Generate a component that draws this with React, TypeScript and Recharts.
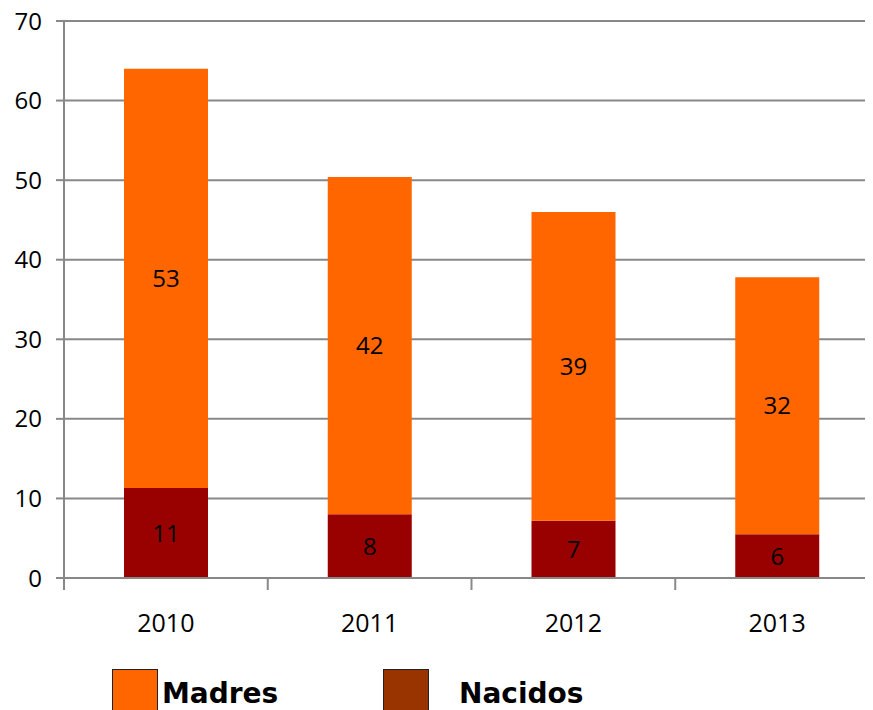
import { BarChart, Bar, XAxis, YAxis, CartesianGrid, LabelList } from 'recharts'

const years = ['2010', '2011', '2012', '2013']
const madres = [52.7, 42.4, 38.8, 32.3]
const nacidos = [11.3, 8.0, 7.2, 5.5]
const yTicks = [0, 10, 20, 30, 40, 50, 60, 70]

const seriesNames = ['Madres', 'Nacidos']
const legendColors = ['#ff6600', '#993300']
const legendLeft = [112, 383]
const legendTextLeft = [162, 459]

const data = years.map((year, i) => ({ year, madres: madres[i], nacidos: nacidos[i] }))

const font = '"Open Sans", sans-serif'
const legendFont = '"DejaVu Sans", Verdana, sans-serif'
const gridColor = '#888888'

const chartWidth = 879
const yAxisWidth = 64
const band = (chartWidth - yAxisWidth) / years.length

const roundLabel = (v: unknown) => Math.round(Number(v))

// year label plus a tick mark at the left edge of each category
function YearTick({ x, y, payload }: { x: number; y: number; payload: { value: string } }) {
  const edge = x - band / 2
  return (
    <g>
      <line x1={edge} x2={edge} y1={y} y2={y + 12} stroke={gridColor} strokeWidth={2} />
      <text x={x} y={y + 36} dy="0.71em" textAnchor="middle" fontSize={25} fill="#000" fontFamily={font}>
        {payload.value}
      </text>
    </g>
  )
}

export default function App() {
  return (
    <div style={{ position: 'relative', marginTop: -8, marginLeft: -8, width: 873, height: 710, overflow: 'hidden' }}>
      <BarChart
        width={chartWidth}
        height={710}
        data={data}
        margin={{ top: 21, right: 0, bottom: 82, left: 0 }}
        barSize={84}
      >
        <CartesianGrid vertical={false} stroke={gridColor} strokeWidth={2} />
        <XAxis
          dataKey="year"
          height={50}
          axisLine={{ stroke: gridColor, strokeWidth: 2 }}
          tickLine={false}
          tickSize={0}
          tickMargin={0}
          interval={0}
          tick={YearTick as any}
        />
        <YAxis
          width={yAxisWidth}
          domain={[0, 70]}
          ticks={yTicks}
          interval={0}
          axisLine={{ stroke: gridColor, strokeWidth: 2 }}
          tickLine={{ stroke: gridColor, strokeWidth: 2 }}
          tickSize={8}
          tickMargin={14}
          tick={{ fontSize: 24, fill: '#000', fontFamily: font }}
        />
        <Bar dataKey="nacidos" stackId="a" fill="#990000" isAnimationActive={false}>
          <LabelList dataKey="nacidos" position="center" formatter={roundLabel} style={{ fontSize: 24, fill: '#000', fontFamily: font }} />
        </Bar>
        <Bar dataKey="madres" stackId="a" fill="#ff6600" isAnimationActive={false}>
          <LabelList dataKey="madres" position="center" formatter={roundLabel} style={{ fontSize: 24, fill: '#000', fontFamily: font }} />
        </Bar>
      </BarChart>
      {seriesNames.map((name, i) => (
        <div key={name}>
          <div
            style={{
              position: 'absolute',
              left: legendLeft[i],
              top: 669,
              width: 46,
              height: 46,
              background: legendColors[i],
              border: '1.5px solid #222',
              boxSizing: 'border-box',
            }}
          />
          <span
            style={{
              position: 'absolute',
              left: legendTextLeft[i],
              top: 680,
              fontFamily: legendFont,
              fontSize: 28,
              fontWeight: 'bold',
              lineHeight: '28px',
              color: '#000',
              whiteSpace: 'nowrap',
            }}
          >
            {name}
          </span>
        </div>
      ))}
    </div>
  )
}
